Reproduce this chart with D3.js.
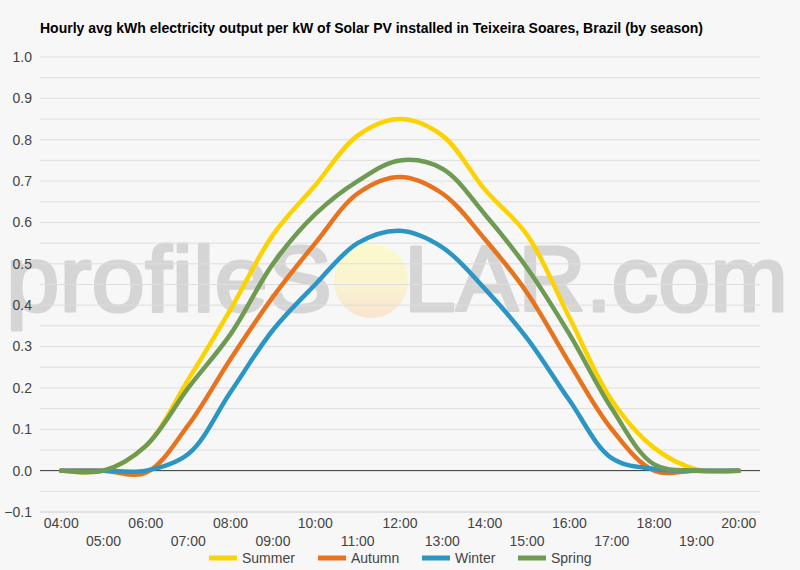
<!DOCTYPE html>
<html>
<head>
<meta charset="utf-8">
<script src="https://cdn.jsdelivr.net/npm/d3@7"></script>
<style>
	body { margin: 0; background: #f7f7f7; }
	svg { display: block; font-family: "Liberation Sans", Arial, sans-serif; }
</style>
</head>
<body>
<svg id="chart"></svg>
<script>
// hourly values
const hours = ['04:00', '05:00', '06:00', '07:00', '08:00', '09:00', '10:00', '11:00', '12:00',
	'13:00', '14:00', '15:00', '16:00', '17:00', '18:00', '19:00', '20:00'];
const summer = [0, 0, 0.06, 0.22, 0.39, 0.57, 0.69, 0.81, 0.85, 0.81, 0.68, 0.57, 0.37, 0.17, 0.055, 0.003, 0];
const autumn = [0, 0, -0.005, 0.11, 0.27, 0.42, 0.55, 0.67, 0.71, 0.67, 0.56, 0.43, 0.26, 0.10, 0.0, 0, 0];
const winter = [0, 0, 0, 0.04, 0.19, 0.34, 0.45, 0.55, 0.58, 0.54, 0.44, 0.32, 0.17, 0.03, 0.004, 0, 0];
const spring = [0, 0, 0.06, 0.20, 0.33, 0.50, 0.62, 0.70, 0.75, 0.73, 0.62, 0.49, 0.33, 0.15, 0.015, 0, 0];
const seasons = ['Summer', 'Autumn', 'Winter', 'Spring'];
const colours = ['#fcd200', '#e8731e', '#2b95c4', '#6e9a52'];
const yTicks = [-0.1, 0, 0.1, 0.2, 0.3, 0.4, 0.5, 0.6, 0.7, 0.8, 0.9, 1.0];

const width = 800, height = 570;
const margin = { top: 57, right: 40, bottom: 58, left: 40 };
const innerW = width - margin.left - margin.right;
const innerH = height - margin.top - margin.bottom;

const svg = d3.select('#chart')
	.attr('width', width)
	.attr('height', height);

svg.append('rect')
	.attr('width', width)
	.attr('height', height)
	.attr('fill', '#f7f7f7');

svg.append('text')
	.attr('x', 40)
	.attr('y', 33)
	.attr('font-size', 14)
	.attr('font-weight', 'bold')
	.attr('fill', '#000')
	.attr('textLength', 663)
	.attr('lengthAdjust', 'spacingAndGlyphs')
	.text('Hourly avg kWh electricity output per kW of Solar PV installed in Teixeira Soares, Brazil (by season)');

// watermark sits under the gridlines
const defs = svg.append('defs');
const grad = defs.append('linearGradient')
	.attr('id', 'sun')
	.attr('x1', 0).attr('y1', 0).attr('x2', 0).attr('y2', 1);
grad.append('stop').attr('offset', '0%').attr('stop-color', '#fbfacc');
grad.append('stop').attr('offset', '55%').attr('stop-color', '#faf3cf');
grad.append('stop').attr('offset', '100%').attr('stop-color', '#f8e4cf');

const mark = svg.append('g').attr('pointer-events', 'none');
mark.append('ellipse')
	.attr('cx', 371)
	.attr('cy', 281)
	.attr('rx', 37)
	.attr('ry', 37)
	.attr('fill', 'url(#sun)');
const words = mark.append('g').attr('opacity', 0.24);
words.append('text')
	.attr('x', 6)
	.attr('y', 311)
	.attr('font-size', 92)
	.attr('textLength', 326)
	.attr('lengthAdjust', 'spacingAndGlyphs')
	.attr('fill', '#6e6e6e')
	.attr('stroke', '#6e6e6e')
	.attr('stroke-width', 3)
	.attr('stroke-linejoin', 'round')
	.text('profileS');
words.append('text')
	.attr('x', 404)
	.attr('y', 311)
	.attr('font-size', 92)
	.attr('textLength', 384)
	.attr('lengthAdjust', 'spacingAndGlyphs')
	.attr('fill', '#6e6e6e')
	.attr('stroke', '#6e6e6e')
	.attr('stroke-width', 3)
	.attr('stroke-linejoin', 'round')
	.text('LAR.com');

const g = svg.append('g')
	.attr('transform', `translate(${margin.left},${margin.top})`);

const xScale = d3.scalePoint()
	.domain(hours)
	.range([0, innerW])
	.padding(0.5);

const yScale = d3.scaleLinear()
	.domain([-0.1, 1.0])
	.range([innerH, 0]);

// gridlines every 0.05
const gridVals = d3.range(-0.1, 1.0001, 0.05).map(v => Math.round(v * 100) / 100);
g.selectAll('.grid')
	.data(gridVals)
	.join('line')
	.attr('class', 'grid')
	.attr('x1', 0)
	.attr('x2', innerW)
	.attr('y1', d => yScale(d))
	.attr('y2', d => yScale(d))
	.attr('stroke', d => d === 0 ? '#333' : (d === -0.1 ? '#ccc' : '#dedede'))
	.attr('stroke-width', 1);

// y labels
g.selectAll('.ylab')
	.data(yTicks)
	.join('text')
	.attr('class', 'ylab')
	.attr('x', -8)
	.attr('y', d => yScale(d))
	.attr('dy', '0.35em')
	.attr('text-anchor', 'end')
	.attr('font-size', 14)
	.attr('fill', '#444')
	.text(d => d3.format('.1f')(d));

// x labels on two rows
g.selectAll('.xlab')
	.data(hours)
	.join('text')
	.attr('class', 'xlab')
	.attr('x', d => xScale(d))
	.attr('y', (d, i) => innerH + (i % 2 === 0 ? 16 : 34))
	.attr('text-anchor', 'middle')
	.attr('font-size', 14)
	.attr('fill', '#444')
	.text(d => d);

const seriesData = [summer, autumn, winter, spring];

const line = d3.line()
	.x((d, i) => xScale(hours[i]))
	.y(d => yScale(d))
	.curve(d3.curveCatmullRom);

g.selectAll('.series')
	.data(seriesData)
	.join('path')
	.attr('class', 'series')
	.attr('d', d => line(d))
	.attr('fill', 'none')
	.attr('stroke', (d, i) => colours[i])
	.attr('stroke-width', 4.5)
	.attr('stroke-linecap', 'round');

// legend
const legendX = [209, 318, 422, 518];
const legend = svg.append('g');
const items = legend.selectAll('.leg')
	.data(seasons)
	.join('g')
	.attr('class', 'leg')
	.attr('transform', (d, i) => `translate(${legendX[i]},558)`);
items.append('line')
	.attr('x1', 0)
	.attr('x2', 28)
	.attr('stroke', (d, i) => colours[i])
	.attr('stroke-width', 5);
items.append('text')
	.attr('x', 33)
	.attr('dy', '0.35em')
	.attr('font-size', 14)
	.attr('fill', '#444')
	.text(d => d);
</script>
</body>
</html>
